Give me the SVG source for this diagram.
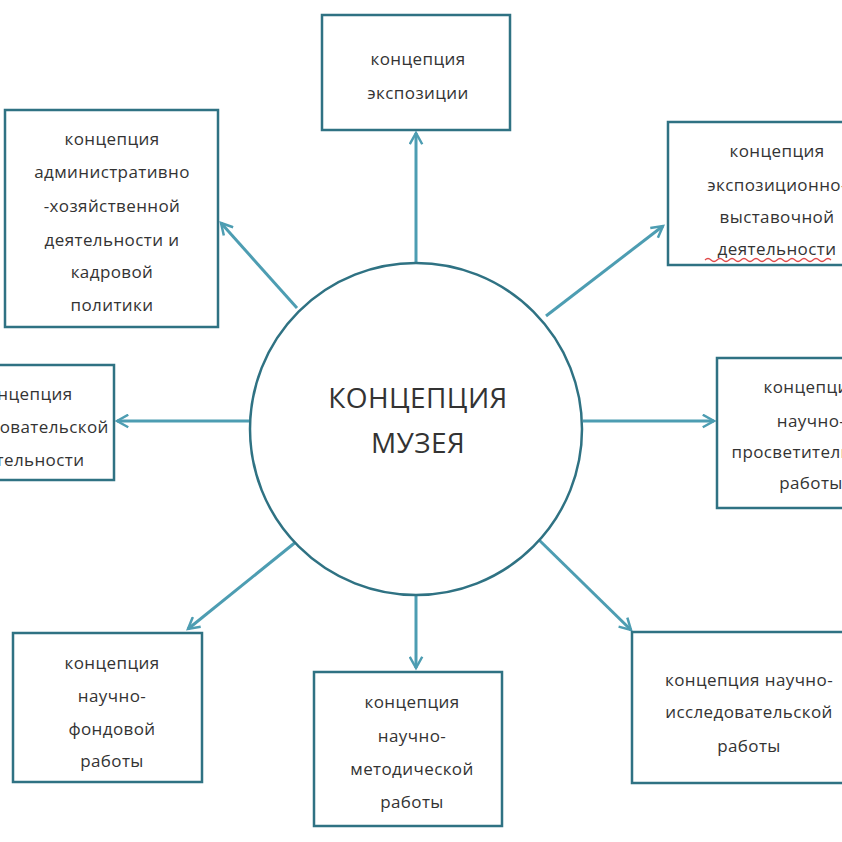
<svg xmlns="http://www.w3.org/2000/svg" width="842" height="842" viewBox="0 0 842 842">
<defs>
<style>
.box{fill:#fff;stroke:#2f7283;stroke-width:2.5}
.t{font-family:"Open Sans","Liberation Sans",sans-serif;font-size:17px;fill:#333;text-anchor:middle;letter-spacing:0.4px}
.c{font-size:28px}
.ln{stroke:#4d9db2;stroke-width:3;fill:none;marker-end:url(#ah)}
</style>
<marker id="ah" viewBox="0 0 12 12" refX="10" refY="6" markerWidth="5" markerHeight="5" orient="auto" markerUnits="strokeWidth">
<path d="M1,1 L10,6 L1,11" fill="none" stroke="#4d9db2" stroke-width="2"/>
</marker>
</defs>
<rect width="842" height="842" fill="#fff"/>
<g id="connectors">
<line class="ln" x1="416" y1="263" x2="416" y2="133"/>
<line class="ln" x1="297" y1="308" x2="221" y2="223"/>
<line class="ln" x1="546" y1="316" x2="663" y2="226"/>
<line class="ln" x1="249" y1="421" x2="117" y2="421"/>
<line class="ln" x1="583" y1="421" x2="714" y2="421"/>
<line class="ln" x1="302" y1="537" x2="188" y2="629"/>
<line class="ln" x1="416" y1="595" x2="416" y2="668"/>
<line class="ln" x1="536" y1="537" x2="631" y2="630"/>
</g>
<g id="center">
<circle cx="416" cy="429" r="166" fill="#fff" stroke="#2f7283" stroke-width="2.5"/>
<text class="t c" x="418" y="408">КОНЦЕПЦИЯ</text>
<text class="t c" x="418" y="453">МУЗЕЯ</text>
</g>
<g id="n-top"><rect class="box" x="322" y="15" width="188" height="115"/>
<text class="t" x="418" y="65">концепция</text><text class="t" x="418" y="99">экспозиции</text></g>
<g id="n-topleft"><rect class="box" x="5" y="110" width="213" height="217"/>
<text class="t" x="112" y="145">концепция</text><text class="t" x="112" y="178">административно</text><text class="t" x="112" y="212">-хозяйственной</text><text class="t" x="112" y="246">деятельности и</text><text class="t" x="112" y="278">кадровой</text><text class="t" x="112" y="311">политики</text></g>
<g id="n-topright"><rect class="box" x="668" y="122" width="190" height="143"/>
<text class="t" x="777" y="157">концепция</text><text class="t" x="777" y="191">экспозиционно-</text><text class="t" x="777" y="223">выставочной</text><text class="t" x="777" y="255">деятельности</text>
<path d="M705,260 q3,-3 6,0 t6,0 t6,0 t6,0 t6,0 t6,0 t6,0 t6,0 t6,0 t6,0 t6,0 t6,0 t6,0 t6,0 t6,0 t6,0 t6,0 t6,0 t6,0 t6,0 t6,0" fill="none" stroke="#e04848" stroke-width="1.2"/></g>
<g id="n-left"><rect class="box" x="-20" y="365" width="134" height="115"/>
<text class="t" x="25" y="400">концепция</text><text class="t" x="25" y="433">исследовательской</text><text class="t" x="25" y="466">деятельности</text></g>
<g id="n-right"><rect class="box" x="717" y="358" width="140" height="150"/>
<text class="t" x="811" y="393">концепция</text><text class="t" x="811" y="427">научно-</text><text class="t" x="811" y="458">просветительской</text><text class="t" x="811" y="489">работы</text></g>
<g id="n-bottomleft"><rect class="box" x="13" y="633" width="189" height="149"/>
<text class="t" x="112" y="669">концепция</text><text class="t" x="112" y="702">научно-</text><text class="t" x="112" y="735">фондовой</text><text class="t" x="112" y="767">работы</text></g>
<g id="n-bottom"><rect class="box" x="314" y="672" width="188" height="154"/>
<text class="t" x="412" y="708">концепция</text><text class="t" x="412" y="742">научно-</text><text class="t" x="412" y="775">методической</text><text class="t" x="412" y="808">работы</text></g>
<g id="n-bottomright"><rect class="box" x="632" y="632" width="230" height="151"/>
<text class="t" x="749" y="686">концепция научно-</text><text class="t" x="749" y="718">исследовательской</text><text class="t" x="749" y="752">работы</text></g>
</svg>
